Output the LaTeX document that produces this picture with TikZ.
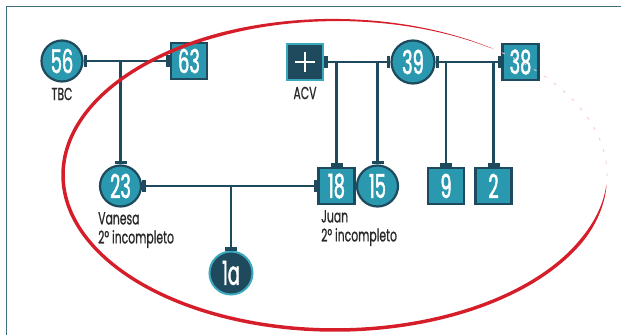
\documentclass[tikz,border=0pt]{standalone}
\usepackage{fontspec}
\setmainfont[FakeStretch=0.65]{Poppins}
\newfontfamily\numfont[FakeStretch=0.54, FakeBold=1.3]{Poppins}
\newfontfamily\lblfont[FakeStretch=0.62, FakeBold=0.8]{Poppins}
\usetikzlibrary{arrows.meta}

\definecolor{tealfill}{RGB}{42,153,175}
\definecolor{darkline}{RGB}{31,73,92}
\definecolor{lightrim}{RGB}{60,168,190}
\definecolor{framecol}{RGB}{62,110,128}
\definecolor{labelgray}{RGB}{40,40,40}
\definecolor{redpen}{RGB}{214,30,42}

\tikzset{
  person/.style={draw=darkline, fill=tealfill, line width=2.2pt, inner sep=0pt,
                 text=white, font=\numfont\fontsize{33}{33}\selectfont},
  fem/.style={person, circle, minimum size=41pt},
  male/.style={person, rectangle, minimum size=36pt},
  darkfem/.style={fem, fill=darkline, draw=lightrim, line width=2pt},
  darkmale/.style={male, fill=darkline, draw=lightrim, line width=2pt},
  bond/.style={draw=darkline, line width=2.8pt,
               {Rectangle[length=3.5pt,width=12pt]}-{Rectangle[length=3.5pt,width=12pt]}},
  kid/.style={draw=darkline, line width=2.8pt, -{Rectangle[length=3.5pt,width=12pt]}},
  lbl/.style={text=labelgray, font=\lblfont\fontsize{17.5}{19}\selectfont,
              inner sep=0pt, align=left},
  declare function={pw(\t)=0.3+3.2*min(1,(\t-4)/20)*min(1,(305-\t)/60);}
}

\begin{document}
\begin{tikzpicture}[x=1pt,y=-1pt]
\useasboundingbox (0,0) rectangle (621,335);

% frame
\draw[framecol, line width=1.8pt] (6.5,335) -- (6.5,6.5) -- (621,6.5);

% people
\node[fem]  (n56) at (62,61) {56};
\node[male] (n63) at (189,61) {63};
\node[darkmale] (acv) at (305,62) {};
\draw[white, line width=1.5pt] ([xshift=-10pt]acv.center) -- ([xshift=10pt]acv.center)
      ([yshift=-10pt]acv.center) -- ([yshift=10pt]acv.center);
\node[fem, minimum size=43pt] (n39) at (413,62) {39};
\node[male] (n38) at (520.5,62) {38};

\node[fem]  (n23) at (120.5,186) {23};
\node[male] (n18) at (336.5,186) {18};
\node[fem]  (n15) at (377.5,186) {15};
\node[male] (n9)  at (446,186) {9};
\node[male] (n2)  at (493.5,186) {2};
\node[darkfem, minimum size=43pt] (n1a) at (231,273) {1a};

% labels
\node[lbl] (tbc) at (62,94) {TBC};
\node[lbl] (acvlbl) at (305,93) {ACV};
\node[lbl, anchor=north west] (vanesa) at (98,212) {Vanesa\\2º incompleto};
\node[lbl, anchor=north west] (juan) at (321,210) {Juan\\2º incompleto};

% unions
\draw[bond] (n56) -- (n63);
\draw[bond] (acv) -- (n39);
\draw[bond] (n39) -- (n38);
\draw[bond] (n23) -- (n18);

% descent lines
\draw[kid] (n56 -| n23) -- (n23);
\draw[kid] (acv -| n18) -- (n18);
\draw[kid] (acv -| n15) -- (n15);
\draw[kid] (n39 -| n9) -- (n9);
\draw[kid] (n39 -| n2) -- (n2);
\draw[kid] (n23 -| n1a) -- (n1a);

% hand-drawn red ring
\fill[redpen]
  plot[domain=4:305, samples=200] ({335+(272+pw(\x)/2)*cos(\x)},{175+(155+pw(\x)/2)*sin(\x)})
  -- plot[domain=305:4, samples=200] ({335+(272-pw(\x)/2)*cos(\x)},{175+(155-pw(\x)/2)*sin(\x)})
  -- cycle;
\draw[redpen!25, line width=0.8pt, dash pattern=on 3pt off 9pt]
  plot[domain=305:364, samples=60] ({335+272*cos(\x)},{175+155*sin(\x)});
\end{tikzpicture}
\end{document}
